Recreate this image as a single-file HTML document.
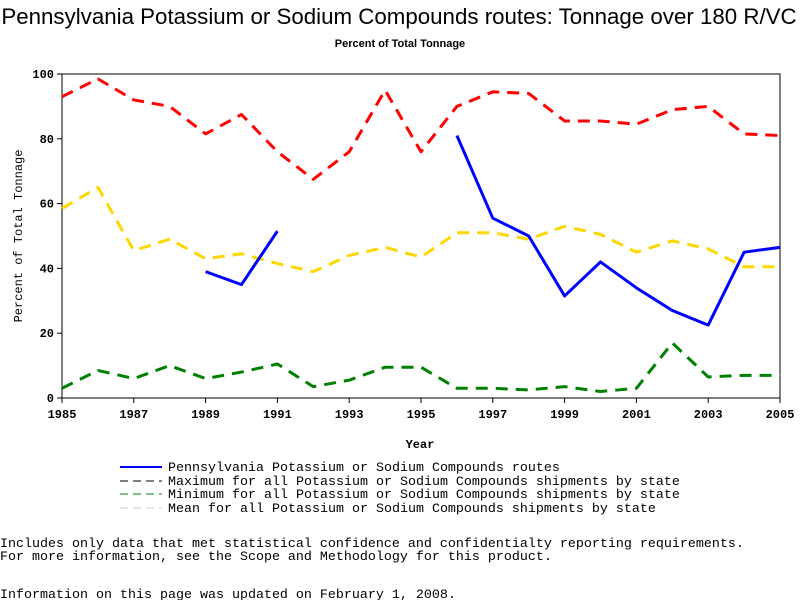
<!DOCTYPE html>
<html><head><meta charset="utf-8"><style>
body{margin:0;background:#fff;width:800px;height:600px;overflow:hidden}
svg{display:block}
.m{font-family:"Liberation Mono",monospace}
</style></head><body>
<svg width="800" height="600">
<text x="399" y="24" text-anchor="middle" font-family="Liberation Sans,sans-serif" font-size="22.3">Pennsylvania Potassium or Sodium Compounds routes: Tonnage over 180 R/VC</text>
<text x="400" y="47" text-anchor="middle" font-family="Liberation Sans,sans-serif" font-size="11" font-weight="bold">Percent of Total Tonnage</text>
<g id="plot"></g>
<text x="420" y="448" text-anchor="middle" class="m" font-size="12" font-weight="bold">Year</text>
<text transform="translate(22,236) rotate(-90)" text-anchor="middle" class="m" font-size="12">Percent of Total Tonnage</text>
<g class="m" font-size="13.33">
<g><line x1="120" y1="467" x2="162" y2="467" stroke="#0000ff" stroke-width="2"/><text x="168" y="471">Pennsylvania Potassium or Sodium Compounds routes</text></g>
<g><line x1="120" y1="481" x2="162" y2="481" stroke="#000" stroke-width="1" stroke-dasharray="8,5"/><text x="168" y="485">Maximum for all Potassium or Sodium Compounds shipments by state</text></g>
<g><line x1="120" y1="494" x2="162" y2="494" stroke="#008000" stroke-width="1" stroke-dasharray="8,5"/><text x="168" y="498">Minimum for all Potassium or Sodium Compounds shipments by state</text></g>
<g><line x1="120" y1="508" x2="162" y2="508" stroke="#ccc" stroke-width="1" stroke-dasharray="8,5"/><text x="168" y="512">Mean for all Potassium or Sodium Compounds shipments by state</text></g>
</g>
<g class="m" font-size="13.33">
<text x="0" y="547">Includes only data that met statistical confidence and confidentialty reporting requirements.</text>
<text x="0" y="560">For more information, see the Scope and Methodology for this product.</text>
<text x="0" y="598">Information on this page was updated on February 1, 2008.</text>
</g>
</svg>
<script>
const years=[1985,1986,1987,1988,1989,1990,1991,1992,1993,1994,1995,1996,1997,1998,1999,2000,2001,2002,2003,2004,2005];
const maxVals=[93,98.5,92,90,81.5,87.5,76,67.5,76,95,76,90,94.5,94,85.5,85.5,84.5,89,90,81.5,81];
const meanVals=[58.5,65,45.5,49,43,44.5,41.5,39,44,46.5,43.5,51,51,49,53,50.5,45,48.5,46,40.5,40.5];
const minVals=[3,8.5,6,10,6,8,10.5,3.5,5.5,9.5,9.5,3,3,2.5,3.5,2,3,17,6.5,7,7];
const paVals=[null,null,null,null,39,35,51.5,null,null,null,null,81,55.5,50,31.5,42,34,27,22.5,45,46.5];
const xTicks=[1985,1987,1989,1991,1993,1995,1997,1999,2001,2003,2005];
const yTicks=[0,20,40,60,80,100];
const X0=62,X1=780,Y0=398,Y1=74;
const xs=v=>X0+(v-1985)/(2005-1985)*(X1-X0);
const ys=v=>Y0-v/100*(Y0-Y1);
const NS="http://www.w3.org/2000/svg";
const g=document.getElementById('plot');
function mk(t,a){const e=document.createElementNS(NS,t);for(const k in a)e.setAttribute(k,a[k]);g.appendChild(e);return e;}
const frame=mk('rect',{x:X0,y:Y1,width:X1-X0,height:Y0-Y1,fill:'none',stroke:'#000'});


xTicks.forEach(t=>{mk('line',{x1:xs(t),x2:xs(t),y1:Y0,y2:Y0+5,stroke:'#000'});
const tx=mk('text',{x:xs(t),y:Y0+20,'text-anchor':'middle','font-family':'Liberation Mono,monospace','font-size':12,'font-weight':'bold'});tx.textContent=t;

});
yTicks.forEach(t=>{mk('line',{x1:X0-5,x2:X0,y1:ys(t),y2:ys(t),stroke:'#000'});
const tx=mk('text',{x:X0-8,y:ys(t)+4,'text-anchor':'end','font-family':'Liberation Mono,monospace','font-size':12,'font-weight':'bold'});tx.textContent=t;

});
function series(vals,color,dash,name){
let segs=[],cur=[];
vals.forEach((v,i)=>{if(v==null){if(cur.length)segs.push(cur);cur=[];}else cur.push(xs(years[i])+','+ys(v));});
if(cur.length)segs.push(cur);
segs.forEach(s=>{const p=mk('polyline',{points:s.join(' '),fill:'none',stroke:color,'stroke-width':3,'stroke-linejoin':'round'});
if(dash)p.setAttribute('stroke-dasharray',dash);

});
}
series(maxVals,'#ff0000','12,8','max-line');
series(meanVals,'#ffd700','12,8','mean-line');
series(minVals,'#008000','12,8','min-line');
series(paVals,'#0000ff',null,'pennsylvania-line');
</script>
</body></html>
